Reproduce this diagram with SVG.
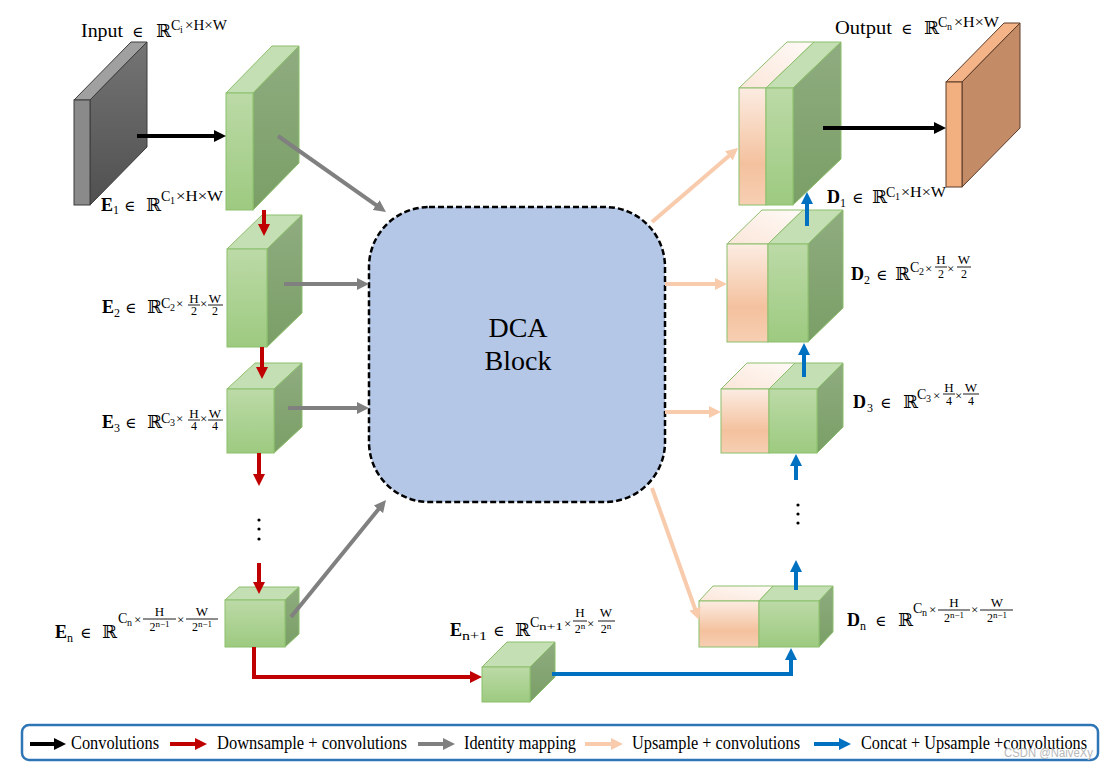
<svg xmlns="http://www.w3.org/2000/svg" width="1109" height="768" viewBox="0 0 1109 768">
<defs>
<linearGradient id="gFront" x1="0" y1="0" x2="0" y2="1"><stop offset="0" stop-color="#bcdaa7"/><stop offset="1" stop-color="#9dca80"/></linearGradient>
<linearGradient id="gSide" x1="0" y1="0" x2="0" y2="1"><stop offset="0" stop-color="#8fac80"/><stop offset="1" stop-color="#7a9f66"/></linearGradient>
<linearGradient id="oFront" x1="0" y1="0" x2="0" y2="1"><stop offset="0" stop-color="#fcece2"/><stop offset="0.65" stop-color="#f4c19e"/><stop offset="1" stop-color="#f7cfb3"/></linearGradient>
<linearGradient id="oTop" x1="0" y1="1" x2="1" y2="0"><stop offset="0" stop-color="#fbe6d9"/><stop offset="1" stop-color="#fffaf7"/></linearGradient>
<linearGradient id="kSide" x1="0" y1="0" x2="0" y2="1"><stop offset="0" stop-color="#747474"/><stop offset="1" stop-color="#505050"/></linearGradient>
<marker id="hK" viewBox="0 0 12 12" refX="3" refY="6" markerWidth="12" markerHeight="12" markerUnits="userSpaceOnUse" orient="auto"><path d="M0,0 L12,6 L0,12 z" fill="#000"/></marker>
<marker id="hR" viewBox="0 0 12 12" refX="3" refY="6" markerWidth="12" markerHeight="12" markerUnits="userSpaceOnUse" orient="auto"><path d="M0,0 L12,6 L0,12 z" fill="#c00000"/></marker>
<marker id="hG" viewBox="0 0 12 12" refX="3" refY="6" markerWidth="12" markerHeight="12" markerUnits="userSpaceOnUse" orient="auto"><path d="M0,0 L12,6 L0,12 z" fill="#808080"/></marker>
<marker id="hP" viewBox="0 0 12 12" refX="3" refY="6" markerWidth="12" markerHeight="12" markerUnits="userSpaceOnUse" orient="auto"><path d="M0,0 L12,6 L0,12 z" fill="#f8cbad"/></marker>
<marker id="hB" viewBox="0 0 12 12" refX="3" refY="6" markerWidth="12" markerHeight="12" markerUnits="userSpaceOnUse" orient="auto"><path d="M0,0 L12,6 L0,12 z" fill="#0070c0"/></marker>
</defs>
<style>
.gf{fill:url(#gFront);stroke:#8cbf6c;stroke-width:1}
.gs{fill:url(#gSide);stroke:#8cbf6c;stroke-width:1}
.gt{fill:#c5dfb4;stroke:#8cbf6c;stroke-width:1}
.of{fill:url(#oFront);stroke:#8cbf6c;stroke-width:1}
.ot{fill:url(#oTop);stroke:#8cbf6c;stroke-width:1}
.ln{fill:none;stroke-width:4}
.k{stroke:#000;marker-end:url(#hK)}
.r{stroke:#c00000;marker-end:url(#hR)}
.g{stroke:#808080;marker-end:url(#hG)}
.p{stroke:#f8cbad;marker-end:url(#hP)}
.bl{stroke:#0070c0;marker-end:url(#hB)}
.t{font-family:"Liberation Serif","DejaVu Serif",serif;fill:#000}
.e{font-family:"DejaVu Serif","Liberation Serif",serif;fill:#000;font-size:15px}
.b{font-weight:bold}
.bar{stroke:#000;stroke-width:0.9}
.lg{font-family:"Liberation Serif","DejaVu Serif",serif;font-size:18px;fill:#000}
</style>
<rect width="1109" height="768" fill="#fff"/>

<g id="input">
<polygon points="74,100 131,42 147,42 90,100" fill="#a0a0a0" stroke="#3c3c3c" stroke-width="1"/>
<polygon points="90,100 147,42 147,147 90,205" fill="url(#kSide)" stroke="#3c3c3c" stroke-width="1"/>
<rect x="74" y="100" width="16" height="105" fill="#8a8a8a" stroke="#3c3c3c" stroke-width="1"/>
<text class="t" x="81" y="37" font-size="18" textLength="42" lengthAdjust="spacingAndGlyphs">Input</text>
<text class="e" x="132" y="37">∈</text>
<text class="t" x="156" y="37" font-size="18">ℝ</text>
<text class="t" x="171" y="30" font-size="14">C</text>
<text class="t" x="180" y="33" font-size="10">i</text>
<text class="t" x="185" y="30" font-size="14" textLength="42" lengthAdjust="spacingAndGlyphs">×H×W</text>
</g>

<g id="E1">
<polygon class="gt" points="226,93 272,46 299,46 253,93"/>
<polygon class="gs" points="253,93 299,46 299,163 253,210"/>
<rect class="gf" x="226" y="93" width="27" height="117"/>
<text class="t b" x="101" y="211" font-size="18">E</text>
<text class="t" x="113" y="214" font-size="12">1</text>
<text class="e" x="124" y="211">∈</text>
<text class="t" x="146" y="211" font-size="18">ℝ</text>
<text class="t" x="161" y="201" font-size="14">C</text>
<text class="t" x="170" y="204" font-size="10">1</text>
<text class="t" x="176" y="201" font-size="14" textLength="47" lengthAdjust="spacingAndGlyphs">×H×W</text>
</g>

<g id="E2">
<polygon class="gt" points="227,249 262,215 302,215 267,249"/>
<polygon class="gs" points="267,249 302,215 302,313 267,347"/>
<rect class="gf" x="227" y="249" width="40" height="98"/>
<text class="t b" x="102" y="313" font-size="18">E</text>
<text class="t" x="114" y="317" font-size="12">2</text>
<text class="e" x="125" y="313">∈</text>
<text class="t" x="147" y="313" font-size="18">ℝ</text>
<text class="t" x="161" y="308" font-size="14">C</text>
<text class="t" x="170" y="311" font-size="10">2</text>
<text class="t" x="176" y="308" font-size="13">×</text>
<text class="t" x="194" y="303" font-size="13" text-anchor="middle">H</text>
<line class="bar" x1="188" y1="305" x2="200" y2="305"/>
<text class="t" x="194" y="315" font-size="12" text-anchor="middle">2</text>
<text class="t" x="200" y="308" font-size="13">×</text>
<text class="t" x="215" y="303" font-size="13" text-anchor="middle">W</text>
<line class="bar" x1="208" y1="305" x2="223" y2="305"/>
<text class="t" x="215" y="315" font-size="12" text-anchor="middle">2</text>
</g>

<g id="E3">
<polygon class="gt" points="227,389 255,363 302,363 274,389"/>
<polygon class="gs" points="274,389 302,363 302,427 274,453"/>
<rect class="gf" x="227" y="389" width="47" height="64"/>
<text class="t b" x="102" y="428" font-size="18">E</text>
<text class="t" x="114" y="432" font-size="12">3</text>
<text class="e" x="125" y="428">∈</text>
<text class="t" x="147" y="428" font-size="18">ℝ</text>
<text class="t" x="161" y="423" font-size="14">C</text>
<text class="t" x="170" y="426" font-size="10">3</text>
<text class="t" x="176" y="423" font-size="13">×</text>
<text class="t" x="194" y="418" font-size="13" text-anchor="middle">H</text>
<line class="bar" x1="188" y1="420" x2="200" y2="420"/>
<text class="t" x="194" y="430" font-size="12" text-anchor="middle">4</text>
<text class="t" x="200" y="423" font-size="13">×</text>
<text class="t" x="215" y="418" font-size="13" text-anchor="middle">W</text>
<line class="bar" x1="208" y1="420" x2="223" y2="420"/>
<text class="t" x="215" y="430" font-size="12" text-anchor="middle">4</text>
</g>

<g id="dots-left">
<circle cx="259" cy="520" r="1.6" fill="#000"/>
<circle cx="259" cy="529" r="1.6" fill="#000"/>
<circle cx="259" cy="539" r="1.6" fill="#000"/>
</g>

<g id="En">
<polygon class="gt" points="225,600 239,587 299,587 285,600"/>
<polygon class="gs" points="285,600 299,587 299,634 285,647"/>
<rect class="gf" x="225" y="600" width="60" height="47"/>
<text class="t b" x="55" y="638" font-size="18">E</text>
<text class="t" x="67" y="642" font-size="12">n</text>
<text class="e" x="80" y="638">∈</text>
<text class="t" x="102" y="638" font-size="18">ℝ</text>
<text class="t" x="118" y="623" font-size="14">C</text>
<text class="t" x="127" y="626" font-size="10">n</text>
<text class="t" x="134" y="624" font-size="13">×</text>
<text class="t" x="159.5" y="616" font-size="13" text-anchor="middle">H</text>
<line class="bar" x1="143" y1="619" x2="176" y2="619"/>
<text class="t" x="159.5" y="631" font-size="12" text-anchor="middle">2<tspan font-size="9" dy="-4">n−1</tspan></text>
<text class="t" x="177" y="624" font-size="13">×</text>
<text class="t" x="202" y="616" font-size="13" text-anchor="middle">W</text>
<line class="bar" x1="186" y1="619" x2="218" y2="619"/>
<text class="t" x="202" y="631" font-size="12" text-anchor="middle">2<tspan font-size="9" dy="-4">n−1</tspan></text>
</g>

<g id="En1">
<polygon class="gt" points="482,667 507,642 555,642 530,667"/>
<polygon class="gs" points="530,667 555,642 555,677 530,702"/>
<rect class="gf" x="482" y="667" width="48" height="35"/>
<text class="t b" x="450" y="636" font-size="18">E</text>
<text class="t" x="462" y="640" font-size="12" textLength="25" lengthAdjust="spacingAndGlyphs">n+1</text>
<text class="e" x="493" y="636">∈</text>
<text class="t" x="515" y="636" font-size="18">ℝ</text>
<text class="t" x="530" y="627" font-size="14">C</text>
<text class="t" x="539" y="630" font-size="10" textLength="24" lengthAdjust="spacingAndGlyphs">n+1</text>
<text class="t" x="564" y="628" font-size="13">×</text>
<text class="t" x="580" y="617" font-size="13" text-anchor="middle">H</text>
<line class="bar" x1="573" y1="621" x2="587" y2="621"/>
<text class="t" x="580" y="633" font-size="12" text-anchor="middle">2<tspan font-size="9" dy="-4">n</tspan></text>
<text class="t" x="587" y="628" font-size="13">×</text>
<text class="t" x="606" y="617" font-size="13" text-anchor="middle">W</text>
<line class="bar" x1="598" y1="621" x2="615" y2="621"/>
<text class="t" x="606" y="633" font-size="12" text-anchor="middle">2<tspan font-size="9" dy="-4">n</tspan></text>
</g>

<g id="dca">
<rect x="369" y="207" width="296" height="295" rx="60" ry="60" fill="#b4c7e7" stroke="#000" stroke-width="2.5" stroke-dasharray="6,3"/>
<text class="t" x="518" y="337" font-size="28" text-anchor="middle">DCA</text>
<text class="t" x="518" y="370" font-size="28" text-anchor="middle">Block</text>
</g>

<g id="D1">
<polygon class="ot" points="739,88 787,42 814,42 766,88"/>
<polygon class="gt" points="766,88 814,42 841,42 793,88"/>
<polygon class="gs" points="793,88 841,42 841,159 793,205"/>
<rect class="of" x="739" y="88" width="27" height="117"/>
<rect class="gf" x="766" y="88" width="27" height="117"/>
<text class="t b" x="827" y="203" font-size="18">D</text>
<text class="t" x="840" y="207" font-size="12">1</text>
<text class="e" x="852" y="203">∈</text>
<text class="t" x="872" y="203" font-size="18">ℝ</text>
<text class="t" x="886" y="197" font-size="14">C</text>
<text class="t" x="895" y="200" font-size="10">1</text>
<text class="t" x="901" y="197" font-size="14" textLength="45" lengthAdjust="spacingAndGlyphs">×H×W</text>
</g>

<g id="D2">
<polygon class="ot" points="727,244 762,210 803,210 768,244"/>
<polygon class="gt" points="768,244 803,210 843,210 808,244"/>
<polygon class="gs" points="808,244 843,210 843,308 808,342"/>
<rect class="of" x="727" y="244" width="41" height="98"/>
<rect class="gf" x="768" y="244" width="40" height="98"/>
<text class="t b" x="851" y="280" font-size="18">D</text>
<text class="t" x="864" y="284" font-size="12">2</text>
<text class="e" x="876" y="280">∈</text>
<text class="t" x="895" y="280" font-size="18">ℝ</text>
<text class="t" x="910" y="272" font-size="14">C</text>
<text class="t" x="919" y="275" font-size="10">2</text>
<text class="t" x="925" y="273" font-size="13">×</text>
<text class="t" x="941" y="264" font-size="13" text-anchor="middle">H</text>
<line class="bar" x1="935" y1="267" x2="947" y2="267"/>
<text class="t" x="941" y="278" font-size="12" text-anchor="middle">2</text>
<text class="t" x="947" y="273" font-size="13">×</text>
<text class="t" x="964" y="264" font-size="13" text-anchor="middle">W</text>
<line class="bar" x1="957" y1="267" x2="971" y2="267"/>
<text class="t" x="964" y="278" font-size="12" text-anchor="middle">2</text>
</g>

<g id="D3">
<polygon class="ot" points="721,389 747,363 795,363 769,389"/>
<polygon class="gt" points="769,389 795,363 843,363 817,389"/>
<polygon class="gs" points="817,389 843,363 843,427 817,453"/>
<rect class="of" x="721" y="389" width="48" height="64"/>
<rect class="gf" x="769" y="389" width="48" height="64"/>
<text class="t b" x="853" y="408" font-size="18">D</text>
<text class="t" x="867" y="412" font-size="12">3</text>
<text class="e" x="880" y="408">∈</text>
<text class="t" x="903" y="408" font-size="18">ℝ</text>
<text class="t" x="917" y="399" font-size="14">C</text>
<text class="t" x="926" y="402" font-size="10">3</text>
<text class="t" x="933" y="400" font-size="13">×</text>
<text class="t" x="949" y="392" font-size="13" text-anchor="middle">H</text>
<line class="bar" x1="943" y1="394" x2="955" y2="394"/>
<text class="t" x="949" y="405" font-size="12" text-anchor="middle">4</text>
<text class="t" x="955" y="400" font-size="13">×</text>
<text class="t" x="971" y="392" font-size="13" text-anchor="middle">W</text>
<line class="bar" x1="963" y1="394" x2="979" y2="394"/>
<text class="t" x="971" y="405" font-size="12" text-anchor="middle">4</text>
</g>

<g id="dots-right">
<circle cx="798" cy="505" r="1.6" fill="#000"/>
<circle cx="798" cy="514" r="1.6" fill="#000"/>
<circle cx="798" cy="523" r="1.6" fill="#000"/>
</g>

<g id="Dn">
<polygon class="ot" points="699,601 713,586 773,586 759,601"/>
<polygon class="gt" points="759,601 773,586 833,586 819,601"/>
<polygon class="gs" points="819,601 833,586 833,632 819,647"/>
<rect class="of" x="699" y="601" width="60" height="46"/>
<rect class="gf" x="759" y="601" width="60" height="46"/>
<text class="t b" x="847" y="626" font-size="18">D</text>
<text class="t" x="860" y="630" font-size="12">n</text>
<text class="e" x="875" y="626">∈</text>
<text class="t" x="898" y="626" font-size="18">ℝ</text>
<text class="t" x="913" y="613" font-size="14">C</text>
<text class="t" x="922" y="616" font-size="10">n</text>
<text class="t" x="929" y="614" font-size="13">×</text>
<text class="t" x="954" y="607" font-size="13" text-anchor="middle">H</text>
<line class="bar" x1="938" y1="610" x2="970" y2="610"/>
<text class="t" x="954" y="622" font-size="12" text-anchor="middle">2<tspan font-size="9" dy="-4">n−1</tspan></text>
<text class="t" x="971" y="614" font-size="13">×</text>
<text class="t" x="997" y="607" font-size="13" text-anchor="middle">W</text>
<line class="bar" x1="980" y1="610" x2="1013" y2="610"/>
<text class="t" x="997" y="622" font-size="12" text-anchor="middle">2<tspan font-size="9" dy="-4">n−1</tspan></text>
</g>

<g id="output">
<polygon points="946,82 1004,23 1020,23 962,82" fill="#f4b487" stroke="#5b3b29" stroke-width="1"/>
<polygon points="962,82 1020,23 1020,128 962,187" fill="#c48c66" stroke="#5b3b29" stroke-width="1"/>
<rect x="946" y="82" width="16" height="105" fill="#f2b081" stroke="#5b3b29" stroke-width="1"/>
<text class="t" x="835" y="34" font-size="18" textLength="57" lengthAdjust="spacingAndGlyphs">Output</text>
<text class="e" x="901" y="34">∈</text>
<text class="t" x="924" y="34" font-size="18">ℝ</text>
<text class="t" x="938" y="27" font-size="14">C</text>
<text class="t" x="947" y="30" font-size="10">n</text>
<text class="t" x="954" y="27" font-size="14" textLength="45" lengthAdjust="spacingAndGlyphs">×H×W</text>
</g>

<g id="connectors">
<line class="ln k" x1="137" y1="136" x2="217" y2="136"/>
<line class="ln k" x1="823" y1="128" x2="937" y2="128"/>
<line class="ln g" x1="278" y1="136" x2="378.6" y2="206.8"/>
<line class="ln g" x1="284" y1="284" x2="360" y2="284"/>
<line class="ln g" x1="288" y1="408" x2="360" y2="408"/>
<line class="ln g" x1="291" y1="617" x2="380.3" y2="507"/>
<line class="ln r" x1="264" y1="210" x2="264" y2="227"/>
<line class="ln r" x1="262" y1="347" x2="262" y2="370"/>
<line class="ln r" x1="259" y1="453" x2="259" y2="477"/>
<line class="ln r" x1="259" y1="563" x2="259" y2="585"/>
<path class="ln r" d="M254,647 V677 H473"/>
<line class="ln p" x1="652" y1="222" x2="731.2" y2="153.9"/>
<line class="ln p" x1="665" y1="284" x2="718" y2="284"/>
<line class="ln p" x1="665" y1="412" x2="712" y2="412"/>
<line class="ln p" x1="652" y1="488" x2="696" y2="611.5"/>
<line class="ln bl" x1="807" y1="226" x2="807" y2="201"/>
<line class="ln bl" x1="804" y1="377" x2="804" y2="352"/>
<line class="ln bl" x1="796" y1="480" x2="796" y2="463"/>
<line class="ln bl" x1="796" y1="590" x2="796" y2="569"/>
<path class="ln bl" d="M552,674 H791 V657"/>
</g>

<g id="legend">
<rect x="22" y="725" width="1076" height="35" rx="7" ry="7" fill="#fff" stroke="#2e75b6" stroke-width="2.5"/>
<line class="ln k" x1="30" y1="744" x2="57" y2="744"/>
<text class="lg" x="71" y="749" textLength="88" lengthAdjust="spacingAndGlyphs">Convolutions</text>
<line class="ln r" x1="170" y1="744" x2="198" y2="744"/>
<text class="lg" x="217" y="749" textLength="190" lengthAdjust="spacingAndGlyphs">Downsample + convolutions</text>
<line class="ln g" x1="418" y1="744" x2="446" y2="744"/>
<text class="lg" x="464" y="749" textLength="112" lengthAdjust="spacingAndGlyphs">Identity mapping</text>
<line class="ln p" x1="585" y1="744" x2="614" y2="744"/>
<text class="lg" x="632" y="749" textLength="168" lengthAdjust="spacingAndGlyphs">Upsample + convolutions</text>
<line class="ln bl" x1="814" y1="744" x2="842" y2="744"/>
<text class="lg" x="861" y="749" textLength="226" lengthAdjust="spacingAndGlyphs">Concat + Upsample +convolutions</text>
<text x="1004" y="757" font-family="'Liberation Sans',Arial,sans-serif" font-size="12" fill="#b8b8b8" textLength="89" lengthAdjust="spacingAndGlyphs">CSDN @NaiveXy</text>
</g>
</svg>
